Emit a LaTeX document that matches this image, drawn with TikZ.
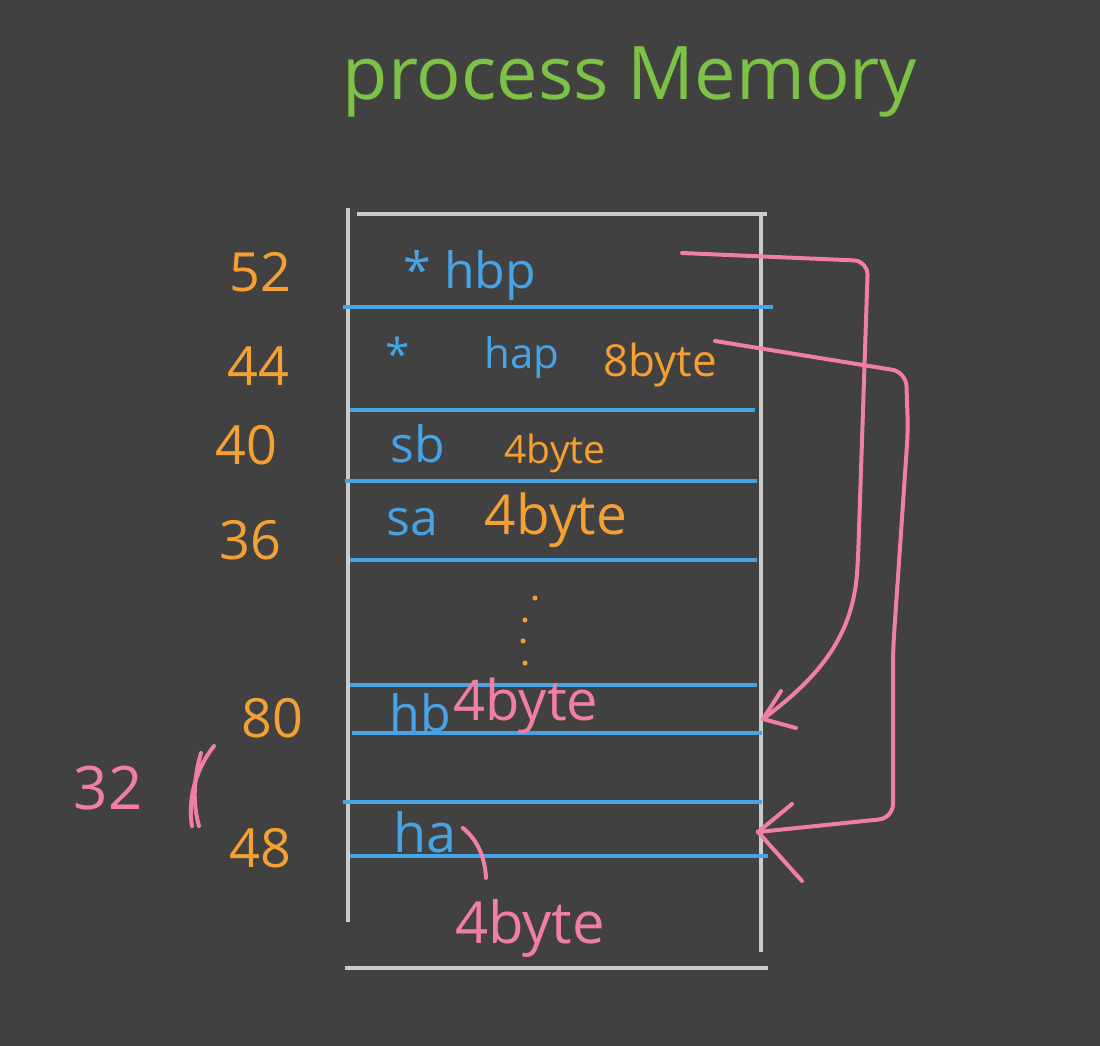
\documentclass[tikz,border=0pt]{standalone}
\usepackage{fontspec}
\setmainfont{Open Sans}
\definecolor{bg}{HTML}{414141}
\definecolor{chalk}{HTML}{C9CBCC}
\definecolor{inkblue}{HTML}{45A3E6}
\definecolor{inkorange}{HTML}{F5A033}
\definecolor{inkpink}{HTML}{F07FA2}
\definecolor{inkgreen}{HTML}{7CC245}
\begin{document}
\begin{tikzpicture}[x=1pt,y=-1pt,
  frame/.style={draw=chalk,line width=3.5pt},
  row/.style={draw=inkblue,line width=3.5pt},
  pinkline/.style={draw=inkpink,line width=4pt,line cap=round,line join=round},
  txt/.style={inner sep=0pt,anchor=center},
  addr/.style={txt,text=inkorange,font=\fontsize{54}{60}\selectfont},
  var/.style={txt,text=inkblue,font=\fontsize{50}{56}\selectfont},
  size/.style={txt,text=inkorange,font=\fontsize{42}{48}\selectfont},
  psize/.style={txt,text=inkpink,font=\fontsize{56}{62}\selectfont}]
\fill[bg] (0,0) rectangle (1100,1046);
\useasboundingbox (0,0) rectangle (1100,1046);

% title
\node[txt,text=inkgreen,font=\fontsize{74}{80}\selectfont] (title) at (630,82) {process Memory};

% frame
\draw[frame] (348,208) -- (348,922);
\draw[frame] (761,213) -- (761,952);
\draw[frame] (357,214) -- (767,214);
\draw[frame] (345,968) -- (768,968);

% memory rows
\draw[row] (343,307) -- (773,307);
\draw[row] (350,410) -- (755,410);
\draw[row] (345,481) -- (757,481);
\draw[row] (350,560) -- (757,560);
\draw[row] (350,685) -- (757,685);
\draw[row] (352,733) -- (762,733);
\draw[row] (343,802) -- (762,802);
\draw[row] (350,856) -- (768,856);

% addresses
\node[addr] (a52) at (260,272) {52};
\node[addr] (a44) at (258,366) {44};
\node[addr] (a40) at (246,445) {40};
\node[addr] (a36) at (250,540) {36};
\node[addr] (a80) at (272,718) {80};
\node[addr] (a48) at (260,848) {48};
\node[psize,font=\fontsize{60}{66}\selectfont] (a32) at (108,788) {32};
\draw[pinkline] (214,746) .. controls (198,766) and (187,796) .. (192,826);
\draw[pinkline] (201,753) .. controls (193,780) and (193,805) .. (199,826);

% variables
\node[var] (hbp) at (470,276) {* hbp};
\node[var,font=\fontsize{44}{50}\selectfont] (star) at (398,354) {*};
\node[var,font=\fontsize{42}{48}\selectfont] (hap) at (522,358) {hap};
\node[size,font=\fontsize{44}{50}\selectfont] (s8) at (660,365) {8byte};
\node[var] (sb) at (418,444) {sb};
\node[size,font=\fontsize{39}{44}\selectfont] (sb4) at (555,453) {4byte};
\node[var] (sa) at (412,522) {sa};
\node[size,font=\fontsize{55}{60}\selectfont] (sa4) at (556,520) {4byte};
\node[var] (hb) at (420,713) {hb};
\node[psize] (hb4) at (526,706) {4byte};
\node[var,font=\fontsize{54}{60}\selectfont] (ha) at (425,832) {ha};
\node[psize,font=\fontsize{58}{64}\selectfont] (ha4) at (530,928) {4byte};
\coordinate (tickend) at (486,878);
\draw[pinkline] (ha.east) ++(6,-4) .. controls (478,840) and (485,858) .. (tickend);

% dots
\foreach \i/\p in {1/{(535,598)},2/{(525,620)},3/{(523,641)},4/{(525,663)}}
  \fill[inkorange] \p coordinate (d\i) circle (2.5);

% arrows
\coordinate (p1s) at (682,253);
\coordinate (p1e) at (763,719);
\coordinate (p2s) at (715,341);
\coordinate (p2e) at (758,832);
\draw[pinkline,rounded corners=14pt] (p1s) -- (868,261) -- (858,560)
  .. controls (852,640) and (815,680) .. (p1e);
\draw[pinkline] (p1e) -- ++(18,-28);
\draw[pinkline] (p1e) -- ++(33,9);
\draw[pinkline,rounded corners=14pt] (p2s) -- (906,372) -- (908,430) -- (893,650) -- (893,818) -- (p2e);
\draw[pinkline] (p2e) -- ++(34,-28);
\draw[pinkline] (p2e) -- ++(44,49);
\end{tikzpicture}
\end{document}
